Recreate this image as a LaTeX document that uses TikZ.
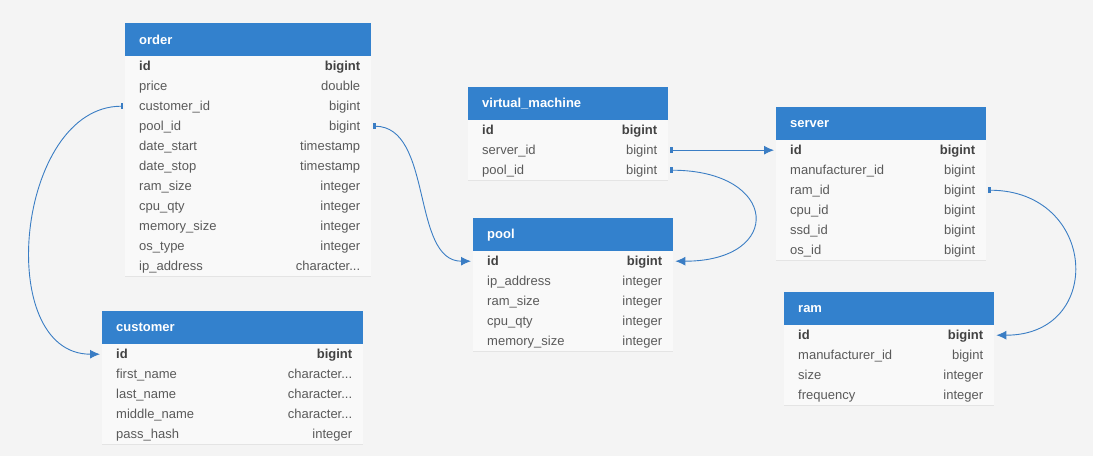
\documentclass[tikz,border=0pt]{standalone}
\usepackage{fontspec}
\setmainfont{Liberation Sans}
\usetikzlibrary{calc, arrows.meta}
\definecolor{Page}{HTML}{F4F4F4}
\definecolor{RowBg}{HTML}{F9F9F9}
\definecolor{RowLine}{HTML}{E4E4E4}
\definecolor{Header}{HTML}{3381CD}
\definecolor{Link}{HTML}{3A7DC4}
\definecolor{Ink}{HTML}{5A5A5A}
\definecolor{InkDark}{HTML}{424242}

\tikzset{
  tblhead/.style={fill=Header, anchor=north west, minimum height=33pt, inner sep=0pt},
  tblrow/.style={fill=RowBg, anchor=north west, minimum height=20pt, inner sep=0pt},
  headtxt/.style={anchor=west, inner sep=0pt, text=white, font=\fontsize{13}{15}\selectfont\bfseries},
  celltxt/.style={inner sep=0pt, text=Ink, font=\fontsize{13}{15}\selectfont},
  fk/.style={draw=Link, line width=0.9pt, {Bar[width=6pt,line width=2.2pt]}-{Latex[length=10pt,width=9pt]}},
}

\newcommand\chartype{character...}
% table: name, title, x, y, width, rows
\newcommand\erdtable[6]{%
  \node[tblhead, minimum width=#5pt] (#1) at (#3,#4) {};
  \node[headtxt] (#1-title) at ([xshift=14pt]#1.west) {#2};
  \foreach [count=\i] \fld/\typ in {#6} {
    \node[tblrow, minimum width=#5pt] (#1-\i) at (#3,#4+33+20*\i-20) {};
    \draw[RowLine, line width=0.6pt] (#1-\i.south west) -- (#1-\i.south east);
    \ifnum\i=1 \def\wt{\bfseries\color{InkDark}}\else\def\wt{}\fi
    \node[celltxt, anchor=base west] (#1-\i-f) at ([xshift=14pt, yshift=-4.5pt]#1-\i.west) {\wt\fld};
    \node[celltxt, anchor=base east] (#1-\i-t) at ([xshift=-11pt, yshift=-4.5pt]#1-\i.east) {\wt\typ};
  }%
}

\begin{document}
\begin{tikzpicture}[x=1pt, y=-1pt]
  \fill[Page] (0,0) rectangle (1093,456);
  \useasboundingbox (0,0) rectangle (1093,456);

  \erdtable{order}{order}{125}{23}{246}{id/bigint, price/double, customer\_id/bigint, pool\_id/bigint,
    date\_start/timestamp, date\_stop/timestamp, ram\_size/integer, cpu\_qty/integer,
    memory\_size/integer, os\_type/integer, ip\_address/\chartype}
  \erdtable{vm}{virtual\_machine}{468}{87}{200}{id/bigint, server\_id/bigint, pool\_id/bigint}
  \erdtable{pool}{pool}{473}{218}{200}{id/bigint, ip\_address/integer, ram\_size/integer,
    cpu\_qty/integer, memory\_size/integer}
  \erdtable{server}{server}{776}{107}{210}{id/bigint, manufacturer\_id/bigint, ram\_id/bigint,
    cpu\_id/bigint, ssd\_id/bigint, os\_id/bigint}
  \erdtable{ram}{ram}{784}{292}{210}{id/bigint, manufacturer\_id/bigint, size/integer, frequency/integer}
  \erdtable{customer}{customer}{102}{311}{261}{id/bigint, first\_name/\chartype, last\_name/\chartype,
    middle\_name/\chartype, pass\_hash/integer}

  % foreign keys
  \draw[fk] ([xshift=-2pt]order-3.west) .. controls +(-107,0) and +(-107,0) .. ([xshift=-2pt]customer-1.west);
  \draw[fk] ([xshift=2pt]order-4.east) .. controls +(60,0) and +(-60,0) .. ([xshift=-2pt]pool-1.west);
  \draw[fk] ([xshift=2pt]vm-2.east) -- ([xshift=-2pt]server-1.west);
  \draw[fk] ([xshift=2pt]vm-3.east) .. controls +(109,0) and +(109,0) .. ([xshift=2pt]pool-1.east);
  \draw[fk] ([xshift=2pt]server-3.east) .. controls +(109,0) and +(109,0) .. ([xshift=2pt]ram-1.east);
\end{tikzpicture}
\end{document}
